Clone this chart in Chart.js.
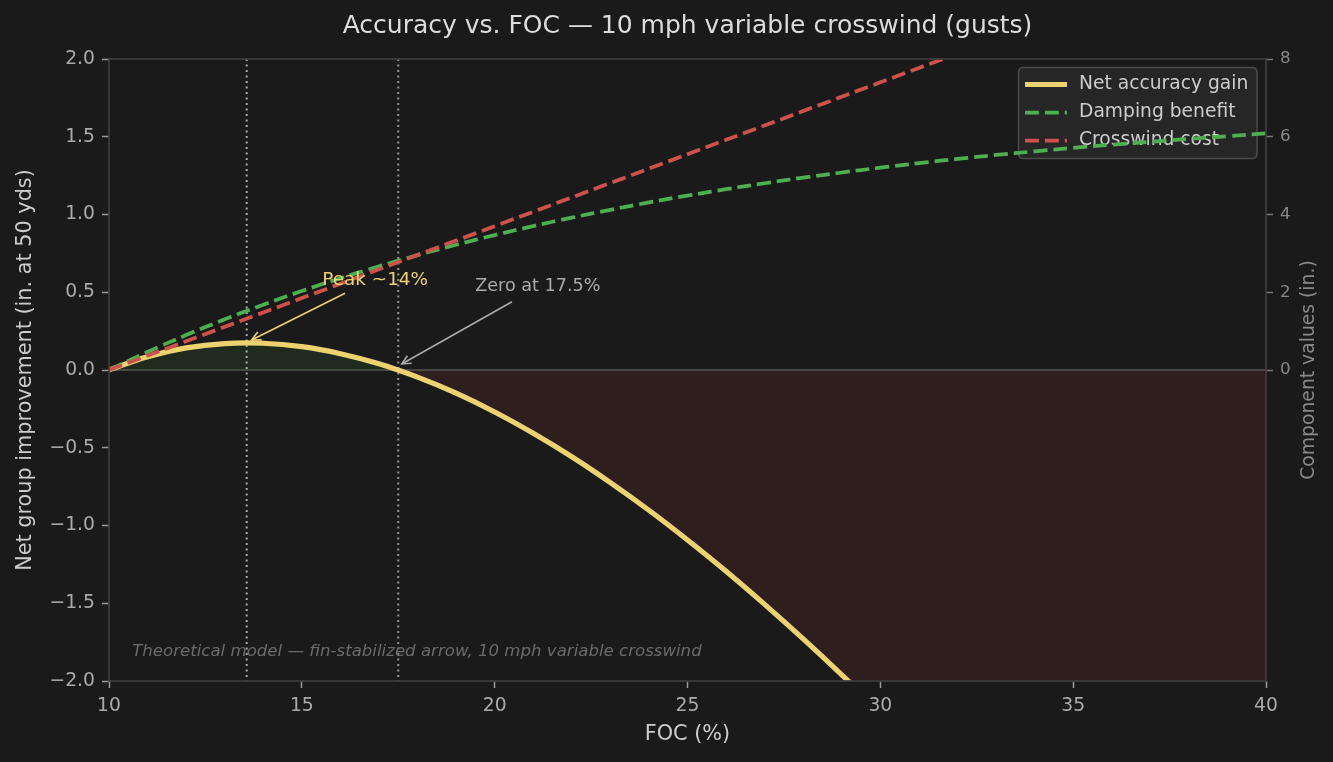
<!DOCTYPE html>
<html>
<head>
<meta charset="utf-8">
<script src="https://cdn.jsdelivr.net/npm/chart.js@4.4.1/dist/chart.umd.min.js"></script>
<style>
html,body{margin:0;padding:0;background:#1a1a1a;}
#wrap{width:1333px;height:762px;position:relative;}
</style>
</head>
<body>
<div id="wrap"><canvas id="c" width="1333" height="762"></canvas></div>
<script>
// ---------------- data ----------------
const focPercent     = [10, 11, 12, 13, 14, 15, 16, 17, 18, 19, 20, 21, 22, 23, 24, 25, 26, 27, 28, 29, 30, 31, 32, 33, 34, 35, 36, 37, 38, 39, 40];
const netGain        = [0, 0.086, 0.142, 0.170, 0.172, 0.150, 0.105, 0.040, -0.046, -0.149, -0.270, -0.407, -0.558, -0.724, -0.902, -1.093, -1.294, -1.507, -1.729, -1.960, -2.200, -2.448, -2.703, -2.965, -3.234, -3.509, -3.789, -4.075, -4.365, -4.661, -4.960];
const dampingBenefit = [0, 0.465, 0.898, 1.303, 1.680, 2.033, 2.361, 2.668, 2.954, 3.221, 3.470, 3.702, 3.919, 4.121, 4.310, 4.486, 4.651, 4.804, 4.947, 5.080, 5.205, 5.321, 5.430, 5.531, 5.625, 5.713, 5.795, 5.872, 5.943, 6.015, 6.085];
const crosswindCost  = [0, 0.37, 0.74, 1.11, 1.48, 1.85, 2.22, 2.59, 2.96, 3.33, 3.70, 4.07, 4.44, 4.81, 5.18, 5.55, 5.92, 6.29, 6.66, 7.03, 7.40, 7.77, 8.14, 8.51, 8.88, 9.25, 9.62, 9.99, 10.36, 10.73, 11.10];
const seriesLabels   = ['Net accuracy gain', 'Damping benefit', 'Crosswind cost'];
const peakFoc = 13.57;
const zeroFoc = 17.5;
const titleText = 'Accuracy vs. FOC \u2014 10 mph variable crosswind (gusts)';
const xTitle = 'FOC (%)';
const yTitle = 'Net group improvement (in. at 50 yds)';
const y1Title = 'Component values (in.)';
const noteText = 'Theoretical model \u2014 fin-stabilized arrow, 10 mph variable crosswind';
const peakLabel = 'Peak ~14%';
const zeroLabel = 'Zero at 17.5%';

// ---------------- style ----------------
const F = '"DejaVu Sans", sans-serif';
const BG = '#1a1a1a';
const YEL = '#ecd370';
const GRN = '#4caf50';
const RED = '#cf514c';
const SPINE = '#3e3e3e';

function arrow(ctx, x0, y0, x1, y1, color) {
  ctx.save();
  ctx.strokeStyle = color;
  ctx.lineWidth = 1.6;
  ctx.beginPath(); ctx.moveTo(x0, y0); ctx.lineTo(x1, y1); ctx.stroke();
  const ang = Math.atan2(y1 - y0, x1 - x0);
  const L = 10, W = 0.45;
  ctx.beginPath();
  ctx.moveTo(x1 - L * Math.cos(ang - W), y1 - L * Math.sin(ang - W));
  ctx.lineTo(x1, y1);
  ctx.lineTo(x1 - L * Math.cos(ang + W), y1 - L * Math.sin(ang + W));
  ctx.stroke();
  ctx.restore();
}

const deco = {
  id: 'deco',
  beforeDraw(chart) {
    const c = chart.ctx;
    c.save(); c.fillStyle = BG; c.fillRect(0, 0, chart.width, chart.height); c.restore();
  },
  beforeDatasetsDraw(chart) {
    const { ctx, chartArea: a, scales: { x, y } } = chart;
    ctx.save();
    // zero line
    const y0 = y.getPixelForValue(0);
    ctx.strokeStyle = '#555555'; ctx.lineWidth = 1.7;
    ctx.beginPath(); ctx.moveTo(a.left, y0); ctx.lineTo(a.right, y0); ctx.stroke();
    // dotted verticals
    ctx.lineWidth = 2; ctx.setLineDash([2.1, 3.4]);
    [[peakFoc, '#aaaaaa'], [zeroFoc, '#929292']].forEach(([v, col]) => {
      const px = x.getPixelForValue(v);
      ctx.strokeStyle = col;
      ctx.beginPath(); ctx.moveTo(px, a.top); ctx.lineTo(px, a.bottom); ctx.stroke();
    });
    ctx.setLineDash([]);
    // legend box
    const lx = 1018.5, ly = 67.5, lw = 238.5, lh = 91, r = 5;
    ctx.fillStyle = '#262626'; ctx.strokeStyle = '#4a4a4a'; ctx.lineWidth = 1.5;
    ctx.beginPath();
    ctx.moveTo(lx + r, ly); ctx.lineTo(lx + lw - r, ly); ctx.quadraticCurveTo(lx + lw, ly, lx + lw, ly + r);
    ctx.lineTo(lx + lw, ly + lh - r); ctx.quadraticCurveTo(lx + lw, ly + lh, lx + lw - r, ly + lh);
    ctx.lineTo(lx + r, ly + lh); ctx.quadraticCurveTo(lx, ly + lh, lx, ly + lh - r);
    ctx.lineTo(lx, ly + r); ctx.quadraticCurveTo(lx, ly, lx + r, ly);
    ctx.closePath(); ctx.fill(); ctx.stroke();
    const rows = [84.5, 112.5, 140.5];
    chart.data.datasets.forEach((ds, i) => {
      ctx.strokeStyle = ds.borderColor; ctx.lineWidth = ds.borderWidth;
      ctx.setLineDash(ds.borderDash || []);
      ctx.beginPath(); ctx.moveTo(1025, rows[i]); ctx.lineTo(1067, rows[i]); ctx.stroke();
      ctx.setLineDash([]);
      ctx.fillStyle = '#cccccc'; ctx.font = '18.7px ' + F; ctx.textBaseline = 'middle'; ctx.textAlign = 'left';
      ctx.fillText(ds.label, 1079, rows[i]);
    });
    ctx.restore();
  },
  afterDatasetsDraw(chart) {
    const { ctx, chartArea: a, scales: { x, y } } = chart;
    ctx.save();
    // spines
    ctx.strokeStyle = SPINE; ctx.lineWidth = 1.7;
    ctx.strokeRect(a.left, a.top, a.right - a.left, a.bottom - a.top);
    // annotations
    ctx.font = '18.4px ' + F; ctx.textAlign = 'center'; ctx.textBaseline = 'middle';
    ctx.fillStyle = YEL;
    ctx.fillText(peakLabel, x.getPixelForValue(16.9), y.getPixelForValue(0.58));
    arrow(ctx, x.getPixelForValue(16.12), y.getPixelForValue(0.493), x.getPixelForValue(13.70), y.getPixelForValue(0.193), YEL);
    ctx.font = '17.6px ' + F;
    ctx.fillStyle = '#aaaaaa';
    ctx.fillText(zeroLabel, x.getPixelForValue(21.12), y.getPixelForValue(0.535));
    arrow(ctx, x.getPixelForValue(20.45), y.getPixelForValue(0.439), x.getPixelForValue(17.59), y.getPixelForValue(0.039), '#aaaaaa');
    // note
    ctx.font = 'italic 16.6px ' + F; ctx.textAlign = 'left'; ctx.fillStyle = '#6a6a6a';
    ctx.fillText(noteText, a.left + 0.02 * (a.right - a.left), a.bottom - 0.047 * (a.bottom - a.top));
    ctx.restore();
  },
  afterDraw(chart) {
    const { ctx, chartArea: a } = chart;
    ctx.save();
    ctx.font = '25px ' + F; ctx.fillStyle = '#dddddd'; ctx.textAlign = 'center'; ctx.textBaseline = 'middle';
    ctx.fillText(titleText, (a.left + a.right) / 2, 26);
    // right axis title, reading bottom-to-top
    ctx.translate(1309, (a.top + a.bottom) / 2);
    ctx.rotate(-Math.PI / 2);
    ctx.font = '18.75px ' + F; ctx.fillStyle = '#888888';
    ctx.fillText(y1Title, 0, 0);
    ctx.restore();
  }
};

const pts = arr => focPercent.map((v, i) => ({ x: v, y: arr[i] }));

new Chart(document.getElementById('c'), {
  type: 'line',
  data: {
    datasets: [
      { label: seriesLabels[0], data: pts(netGain), yAxisID: 'y', borderColor: YEL, borderWidth: 5.2,
        pointRadius: 0, tension: 0.4, order: 2,
        fill: { target: 'origin', above: '#1f2b1d', below: '#2e1e1e' } },
      { label: seriesLabels[1], data: pts(dampingBenefit), yAxisID: 'y1', borderColor: GRN, borderWidth: 3.75,
        borderDash: [13.9, 6], borderCapStyle: 'butt', pointRadius: 0, tension: 0.4, order: 1, fill: false },
      { label: seriesLabels[2], data: pts(crosswindCost), yAxisID: 'y1', borderColor: RED, borderWidth: 3.75,
        borderDash: [13.9, 6], borderCapStyle: 'butt', pointRadius: 0, tension: 0, order: 0, fill: false }
    ]
  },
  options: {
    responsive: false, animation: false, devicePixelRatio: 1, events: [],
    layout: { padding: { top: 59, left: 0, right: 0, bottom: 0 } },
    plugins: {
      legend: { display: false }, title: { display: false }, tooltip: { enabled: false },
      filler: { drawTime: 'beforeDatasetsDraw' }
    },
    scales: {
      x: {
        type: 'linear', min: 10, max: 40,
        afterFit: s => { s.height = 81; },
        border: { display: false },
        grid: { display: true, drawOnChartArea: false, drawTicks: true, tickLength: 7, tickColor: '#999999', tickWidth: 1.5 },
        ticks: { stepSize: 5, color: '#aaaaaa', font: { family: F, size: 18.75 }, padding: 7, maxRotation: 0,
                 callback: v => String(v) },
        title: { display: true, text: xTitle, color: '#cccccc', font: { family: F, size: 20.8 }, padding: { top: 0, bottom: 14.5 } }
      },
      y: {
        type: 'linear', position: 'left', min: -2, max: 2,
        afterFit: s => { s.width = 109; },
        border: { display: false },
        grid: { display: true, drawOnChartArea: false, drawTicks: true, tickLength: 7, tickColor: '#999999', tickWidth: 1.5 },
        ticks: { stepSize: 0.5, color: '#aaaaaa', font: { family: F, size: 18.75 }, padding: 7,
                 callback: v => (Math.round(v * 10) / 10).toFixed(1).replace('-', '\u2212') },
        title: { display: true, text: yTitle, color: '#cccccc', font: { family: F, size: 20.8 }, padding: { top: 13, bottom: 0 } }
      },
      y1: {
        type: 'linear', position: 'right', min: -8, max: 8,
        afterFit: s => { s.width = 67; },
        border: { display: false },
        grid: { display: true, drawOnChartArea: false, drawTicks: true, tickLength: 7, tickColor: '#777777', tickWidth: 1.5 },
        ticks: { stepSize: 2, color: '#888888', font: { family: F, size: 16.7 }, padding: 7,
                 callback: v => (v >= 0 ? String(v) : null) },
        title: { display: false }
      }
    }
  },
  plugins: [deco]
});
</script>
</body>
</html>
